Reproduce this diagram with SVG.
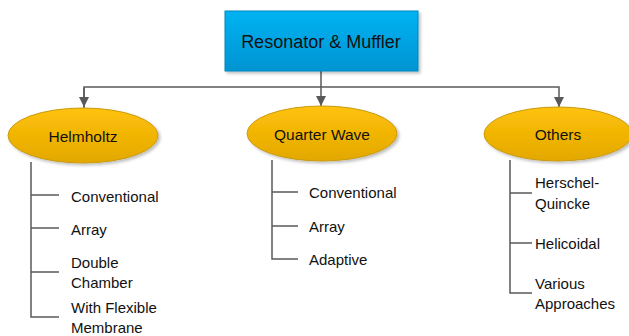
<svg xmlns="http://www.w3.org/2000/svg" width="629" height="336" viewBox="0 0 629 336">
<defs>
<linearGradient id="gb" x1="0" y1="0" x2="0" y2="1"><stop offset="0" stop-color="#00B3F2"/><stop offset="1" stop-color="#0094D2"/></linearGradient>
<linearGradient id="gy" x1="0" y1="0" x2="0" y2="1"><stop offset="0" stop-color="#FFC20A"/><stop offset="1" stop-color="#E3A800"/></linearGradient>
<filter id="sh" x="-10%" y="-10%" width="130%" height="140%"><feDropShadow dx="2" dy="2" stdDeviation="1.5" flood-color="#000" flood-opacity="0.25"/></filter>
<marker id="ar" viewBox="0 0 10 10" refX="10" refY="5" markerWidth="10" markerHeight="10" markerUnits="userSpaceOnUse" orient="auto"><path d="M0,0 L10,5 L0,10 z" fill="#595959"/></marker>
<style>
text{font-family:"Liberation Sans",Arial,sans-serif;fill:#111;}
.t{font-size:18px;text-anchor:middle;dominant-baseline:central;}
.e{font-size:15.5px;text-anchor:middle;dominant-baseline:central;}
.s{font-size:15px;dominant-baseline:central;}
.ln{stroke:#595959;stroke-width:1.5;fill:none;}
</style>
</defs>
<g id="connectors">
<path class="ln" d="M321,71 V87"/>
<path class="ln" d="M84,108 V87 H559 V107" marker-end="url(#ar)"/>
<path class="ln" d="M84,88 V107" marker-end="url(#ar)"/>
<path class="ln" d="M321,87 V106" marker-end="url(#ar)"/>
<path class="ln" d="M31,162 V317 H59 M31,195 H59 M31,228 H59 M31,272 H59"/>
<path class="ln" d="M272,160 V259 H298 M272,192 H298 M272,226 H298"/>
<path class="ln" d="M510,160 V293 H532 M510,193 H532 M510,243 H532"/>
</g>
<g id="root">
<rect x="225" y="11" width="193" height="60" fill="url(#gb)" stroke="#0A86BE" stroke-width="1" filter="url(#sh)"/>
<text class="t" x="321" y="42">Resonator &amp; Muffler</text>
</g>
<g id="helmholtz">
<ellipse cx="83" cy="135.5" rx="75" ry="27.5" fill="url(#gy)" stroke="#C99A10" stroke-width="1" filter="url(#sh)"/>
<text class="e" x="83" y="136">Helmholtz</text>
</g>
<g id="quarterwave">
<ellipse cx="322" cy="133.5" rx="75" ry="27.5" fill="url(#gy)" stroke="#C99A10" stroke-width="1" filter="url(#sh)"/>
<text class="e" x="322" y="134">Quarter Wave</text>
</g>
<g id="others">
<ellipse cx="558" cy="134" rx="74" ry="27" fill="url(#gy)" stroke="#C99A10" stroke-width="1" filter="url(#sh)"/>
<text class="e" x="558" y="134">Others</text>
</g>
<g id="h-items">
<text class="s" x="71" y="196">Conventional</text>
<text class="s" x="71" y="229">Array</text>
<text class="s" x="71" y="262">Double</text>
<text class="s" x="71" y="282">Chamber</text>
<text class="s" x="71" y="307">With Flexible</text>
<text class="s" x="71" y="327">Membrane</text>
</g>
<g id="q-items">
<text class="s" x="309" y="192">Conventional</text>
<text class="s" x="309" y="226">Array</text>
<text class="s" x="309" y="259">Adaptive</text>
</g>
<g id="o-items">
<text class="s" x="535" y="182">Herschel-</text>
<text class="s" x="535" y="203">Quincke</text>
<text class="s" x="535" y="243">Helicoidal</text>
<text class="s" x="535" y="283">Various</text>
<text class="s" x="535" y="303">Approaches</text>
</g>
</svg>
